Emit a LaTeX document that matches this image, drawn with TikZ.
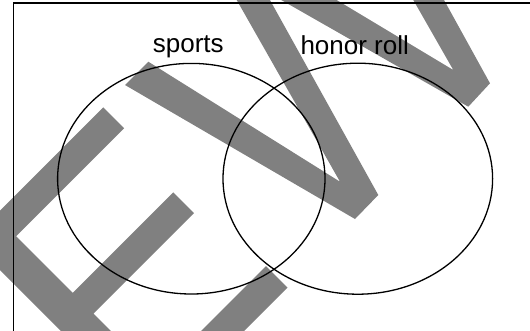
\documentclass[tikz,border=0pt]{standalone}
\usepackage{fontspec}
\setmainfont{Liberation Sans}
\begin{document}
\begin{tikzpicture}[x=1pt,y=-1pt,
  mark/.style={fill=gray!100!black, draw=none},
  setshape/.style={draw=black, line width=1.3pt},
  framebox/.style={draw=black, line width=1.1pt},
  label/.style={font=\fontsize{26}{30}\selectfont, anchor=base, inner sep=0pt}]
\useasboundingbox (0,0) rectangle (530,330);
\clip (0,0) rectangle (530,330);
% watermark
\fill[gray] (-29.7,240.3) -- (103.3,107.3) -- (124.2,128.2) -- (16.2,236.2) -- (72.8,292.8) -- (173.3,192.3) -- (194,213) -- (93.5,313.5) -- (156,376) -- (266,266) -- (287.5,287.5) -- (152.5,422.5) -- cycle;
\fill[gray] (125,85) -- (148.3,61.7) -- (340,181.7) -- (231,-10) -- (264.4,-10) -- (378.3,195) -- (355,219) -- cycle;
\fill[gray] (263.7,-10) -- (320,-10) -- (453.3,70) -- (407.6,-10) -- (438.5,-10) -- (490,83.3) -- (468.3,106.7) -- cycle;
% frame
\draw[framebox] (13.5,3) rectangle (545,345);
% sets
\draw[setshape] (191.3,178.7) ellipse [x radius=133.7, y radius=115.3];
\draw[setshape] (357.8,178.7) ellipse [x radius=134.8, y radius=115.5];
\node[label] (sports) at (188.3,52) {sports};
\node[label] (honor) at (354.7,54) {honor roll};
\end{tikzpicture}
\end{document}
